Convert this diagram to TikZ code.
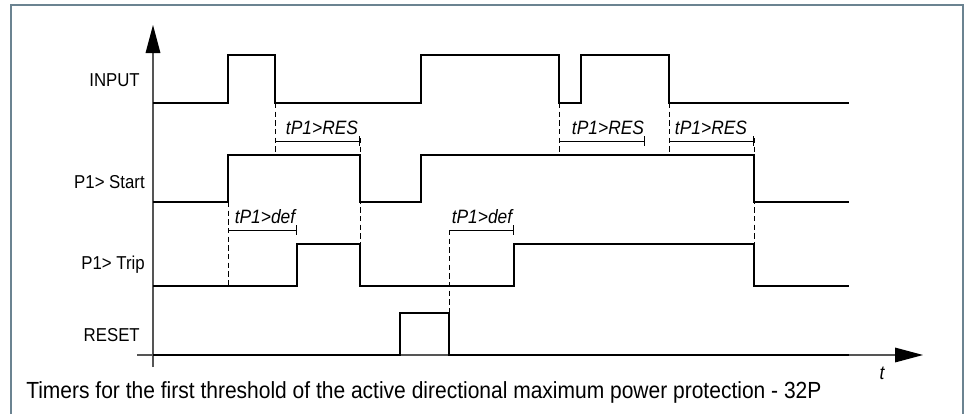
\documentclass[tikz,border=0pt]{standalone}
\usepackage{fontspec}
\setmainfont{Liberation Sans}[FakeStretch=0.9]
\usepackage{xcolor}
\usetikzlibrary{arrows.meta,positioning}
\definecolor{framegray}{HTML}{6B8391}
\definecolor{axisgray}{HTML}{555555}

\begin{document}
\begin{tikzpicture}[
  x=0.75pt, y=-0.75pt,
  sig/.style={line width=1.6pt, black, line join=miter},
  axis/.style={line width=0.8pt, axisgray, -{Triangle[length=21pt,width=11pt,color=black]}},
  guide/.style={line width=0.6pt, dash pattern=on 4pt off 2.5pt},
  timer/.style={line width=0.6pt, -{Bar[width=7pt]}},
  siglab/.style={anchor=east, inner sep=0pt, font=\fontsize{14}{17}\selectfont},
  tlab/.style={inner sep=0pt, font=\fontsize{14.5}{17}\selectfont\itshape}
]
\useasboundingbox (0,0) rectangle (966,414);
\draw[framegray, line width=1.8pt] (11,414) -- (11,5) -- (963,5) -- (963,414);
% axes
\draw[axis] (153,367) -- (153,25);
\draw[axis] (137,355) -- (923,355);
\node[tlab] (tt) at (882,373) {t};
% signal names
\node[siglab] (lin) at (140,80) {INPUT};
\node[siglab] (lstart) at (145,182) {P1> Start};
\node[siglab] (ltrip) at (145,265) {P1> Trip};
\node[siglab] (lreset) at (140,335) {RESET};
% signals
\draw[sig] (153,103) -| (228,55) -| (275,103) -| (421,55) -| (559,103) -| (581,55) -| (669,103) -- (849,103);
\draw[sig] (153,202) -| (228,155) -| (360,202) -| (421,155) -| (754,202) -- (849,202);
\draw[sig] (153,286) -| (297,244) -| (360,286) -| (514,244) -| (754,286) -- (849,286);
\draw[sig] (153,355) -| (400,313) -| (449,355) -- (849,355);
% dashed guides
\foreach \x/\a/\b in {275/103/152,559/103/155,669/103/155,360/138/244,754/138/244,228/202/286,449/230/313}{
  \draw[guide] (\x,\a) -- (\x,\b);
}
% timers
\foreach \a/\b/\y in {275/360/141,559/645/141,669/754/141,228/297/230,449/514/230}{
  \draw[timer] (\a,\y) -- (\b,\y);
}
\node[tlab] (res1) at (322,128) {tP1>RES};
\node[tlab] (res2) at (608,128) {tP1>RES};
\node[tlab] (res3) at (711,128) {tP1>RES};
\node[tlab] (def1) at (265,217) {tP1>def};
\node[tlab] (def2) at (482,217) {tP1>def};
% caption
\node[anchor=west, inner sep=0pt, font=\fontsize{17.5}{20}\selectfont] (cap) at (26,392) {Timers for the first threshold of the active directional maximum power protection - 32P};
\end{tikzpicture}
\end{document}
